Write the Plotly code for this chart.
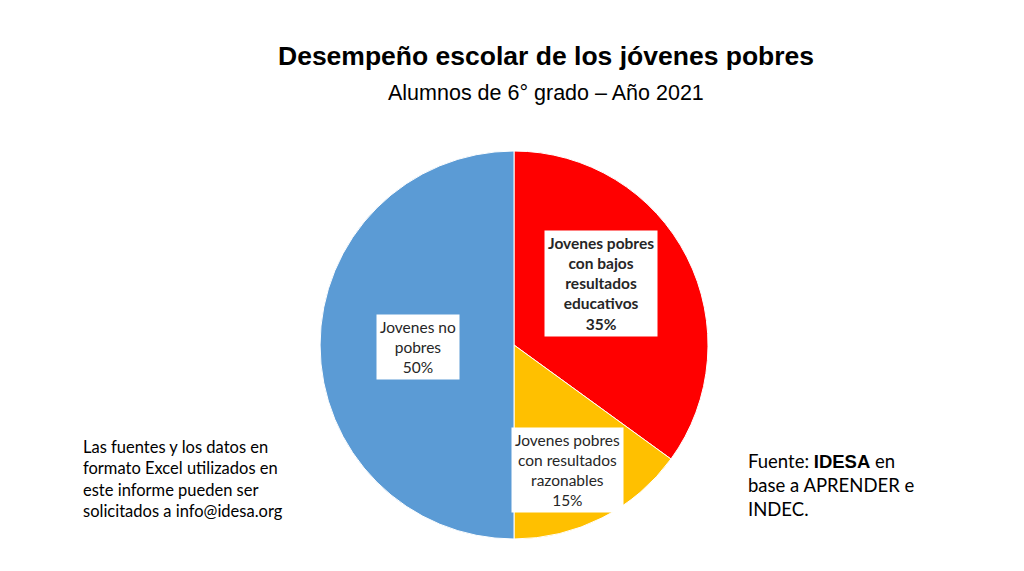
import plotly.graph_objects as go

# datos del gráfico
categorias = ["Jovenes pobres con bajos resultados educativos",
              "Jovenes pobres con resultados razonables",
              "Jovenes no pobres"]
valores = [35, 15, 50]
colores = ["#FF0000", "#FFC000", "#5B9BD5"]
etiquetas = ["<b>Jovenes pobres<br>con bajos<br>resultados<br>educativos<br>35%</b>",
             "Jovenes pobres<br>con resultados<br>razonables<br>15%",
             "Jovenes no<br>pobres<br>50%"]
# centro de cada caja de etiqueta (pixeles en la imagen)
pos_etiquetas = [(601, 283), (567, 470), (418, 347)]

# la pagina tiene 8px de margen en el body
OFF = 8
W, H = 1024 - 2 * OFF, 571 - 2 * OFF


def px(x, y):
    return (x - OFF) / W, 1 - (y - OFF) / H


x0, y0 = px(319, 539)
x1, y1 = px(709, 151)

fig = go.Figure(go.Pie(
    labels=categorias,
    values=valores,
    sort=False,
    direction="clockwise",
    rotation=0,
    textinfo="none",
    hoverinfo="label+percent",
    marker=dict(colors=colores, line=dict(color="white", width=1)),
    domain=dict(x=[x0, x1], y=[y0, y1]),
    showlegend=False,
))

anotaciones = []
for txt, (x, y) in zip(etiquetas, pos_etiquetas):
    ax, ay = px(x, y)
    anotaciones.append(dict(
        text=txt, x=ax, y=ay, xref="paper", yref="paper",
        xanchor="center", yanchor="middle",
        showarrow=False, align="center",
        bgcolor="white", borderpad=3,
        font=dict(family="Lato", size=15.5, color="#262626"),
    ))

tx, ty = px(546, 56)
anotaciones.append(dict(text="<b>Desempeño escolar de los jóvenes pobres</b>",
                        x=tx, y=ty, xref="paper", yref="paper", showarrow=False,
                        xanchor="center", yanchor="middle",
                        font=dict(family="Liberation Sans", size=26.5, color="black")))
tx, ty = px(546, 93)
anotaciones.append(dict(text="Alumnos de 6° grado – Año 2021",
                        x=tx, y=ty, xref="paper", yref="paper", showarrow=False,
                        xanchor="center", yanchor="middle",
                        font=dict(family="Liberation Sans", size=21.5, color="black")))
tx, ty = px(81, 479)
anotaciones.append(dict(text="Las fuentes y los datos en<br>formato Excel utilizados en<br>"
                             "este informe pueden ser<br>solicitados a info@idesa.org",
                        x=tx, y=ty, xref="paper", yref="paper", showarrow=False,
                        xanchor="left", yanchor="middle", align="left",
                        font=dict(family="Lato", size=16.5, color="black")))
tx, ty = px(746, 485)
anotaciones.append(dict(text="Fuente: <b><span style='font-family:Liberation Sans'>IDESA</span></b> en<br>"
                             "base a APRENDER e<br>INDEC.",
                        x=tx, y=ty, xref="paper", yref="paper", showarrow=False,
                        xanchor="left", yanchor="middle", align="left",
                        font=dict(family="Lato", size=18.5, color="black")))

fig.update_layout(
    width=W, height=H,
    margin=dict(l=0, r=0, t=0, b=0),
    paper_bgcolor="white",
    plot_bgcolor="white",
    annotations=anotaciones,
)

fig.write_html("out.html")
